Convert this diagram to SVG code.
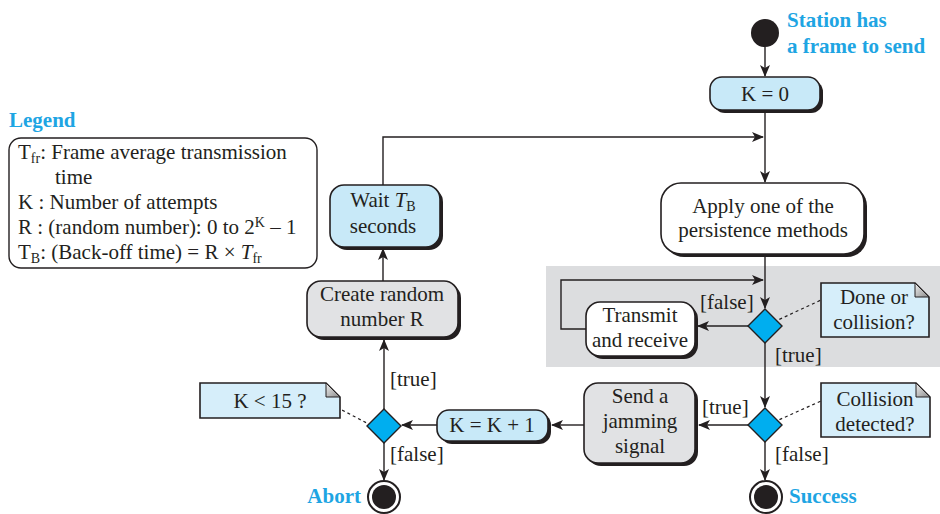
<svg xmlns="http://www.w3.org/2000/svg" width="940" height="514" viewBox="0 0 940 514" font-family="'Liberation Serif', 'Times New Roman', serif">
<defs>
<marker id="ah" viewBox="0 0 12 10" refX="11" refY="5" markerWidth="12" markerHeight="10" markerUnits="userSpaceOnUse" orient="auto">
<path d="M0,0 L12,5 L0,10 L3,5 Z" fill="#231f20"/>
</marker>
<linearGradient id="fold" x1="0" y1="0" x2="1" y2="1">
<stop offset="0" stop-color="#f2f2f2"/><stop offset="1" stop-color="#8a8a8a"/>
</linearGradient>
</defs>
<style>
text{font-family:'Liberation Serif','Times New Roman',serif;font-size:21px;fill:#231f20}
.c{text-anchor:middle}
.lbl{font-weight:bold;fill:#1ea5e3;font-size:21px}
.box{stroke:#231f20;stroke-width:1.6}
.sh{fill:#231f20}
.line{fill:none;stroke:#231f20;stroke-width:1.4}
.dash{fill:none;stroke:#231f20;stroke-width:1.2;stroke-dasharray:3,3}
.dia{fill:#00aeef;stroke:#231f20;stroke-width:1.4}
.note{fill:#d6eefa;stroke:#231f20;stroke-width:1.6}
.blue{fill:#c8e9f8}
.gray{fill:#e1e2e4}
.white{fill:#ffffff}
</style>
<rect x="546" y="266" width="394" height="101" fill="#dcdddf"/>

<g id="connectors">
<line class="line" x1="765" y1="47" x2="765" y2="76" marker-end="url(#ah)"/>
<line class="line" x1="765" y1="110" x2="765" y2="182" marker-end="url(#ah)"/>
<polyline class="line" points="383,185 383,137 763,137" marker-end="url(#ah)"/>
<line class="line" x1="765" y1="254" x2="765" y2="308" marker-end="url(#ah)"/>
<polyline class="line" points="586,329 561,329 561,280 763,280" marker-end="url(#ah)"/>
<line class="line" x1="748" y1="326" x2="698" y2="326" marker-end="url(#ah)"/>
<line class="line" x1="765" y1="343" x2="765" y2="407" marker-end="url(#ah)"/>
<line class="line" x1="748" y1="425" x2="699" y2="425" marker-end="url(#ah)"/>
<line class="line" x1="584" y1="425" x2="552" y2="425" marker-end="url(#ah)"/>
<line class="line" x1="437" y1="425" x2="402" y2="425" marker-end="url(#ah)"/>
<line class="line" x1="384" y1="409" x2="384" y2="340" marker-end="url(#ah)"/>
<line class="line" x1="383" y1="281" x2="383" y2="249" marker-end="url(#ah)"/>
<line class="line" x1="384" y1="443" x2="384" y2="480" marker-end="url(#ah)"/>
<line class="line" x1="765" y1="442" x2="765" y2="480" marker-end="url(#ah)"/>
<line class="dash" x1="763" y1="327" x2="821" y2="300"/>
<line class="dash" x1="763" y1="427" x2="821" y2="401"/>
<line class="dash" x1="382" y1="431" x2="340" y2="409"/>
<text x="700" y="309">[false]</text>
<text x="775" y="362">[true]</text>
<text x="702" y="414">[true]</text>
<text x="775" y="461">[false]</text>
<text x="390" y="386">[true]</text>
<text x="390" y="461">[false]</text>
</g>

<g id="start">
<circle cx="765" cy="33" r="14" fill="#231f20"/>
<text class="lbl" x="787" y="27">Station has</text>
<text class="lbl" x="787" y="53">a frame to send</text>
</g>

<g id="k0">
<rect class="sh" x="713" y="80" width="110" height="33" rx="12"/>
<rect class="box blue" x="710" y="77" width="110" height="33" rx="12"/>
<text class="c" x="765" y="101">K = 0</text>
</g>

<g id="apply">
<rect class="sh" x="664" y="186" width="203" height="71" rx="20"/>
<rect class="box white" x="661" y="183" width="203" height="71" rx="20"/>
<text class="c" x="763" y="213">Apply one of the</text>
<text class="c" x="763" y="237">persistence methods</text>
</g>

<g id="transmit">
<rect class="sh" x="589" y="305" width="109" height="54" rx="14"/>
<rect class="box white" x="586" y="302" width="109" height="54" rx="14"/>
<text class="c" x="640" y="322">Transmit</text>
<text class="c" x="640" y="347">and receive</text>
</g>

<g id="d1">
<polygon class="dia" points="765,309 782,326 765,343 748,326"/>
</g>

<g id="note1">
<path class="note" d="M821,283 H915 L929,297 V337 H821 Z"/>
<path d="M915,283 L929,297 H915 Z" fill="url(#fold)" stroke="#231f20" stroke-width="1"/>
<text class="c" x="874" y="304">Done or</text>
<text class="c" x="874" y="329">collision?</text>
</g>

<g id="d2">
<polygon class="dia" points="765,408 782,425 765,442 748,425"/>
</g>

<g id="note2">
<path class="note" d="M821,383 H916 L930,397 V437 H821 Z"/>
<path d="M916,383 L930,397 H916 Z" fill="url(#fold)" stroke="#231f20" stroke-width="1"/>
<text class="c" x="875" y="406">Collision</text>
<text class="c" x="875" y="431">detected?</text>
</g>

<g id="jam">
<rect class="sh" x="587" y="386" width="111" height="80" rx="14"/>
<rect class="box gray" x="584" y="383" width="111" height="80" rx="14"/>
<text class="c" x="640" y="403">Send a</text>
<text class="c" x="640" y="428">jamming</text>
<text class="c" x="640" y="453">signal</text>
</g>

<g id="kinc">
<rect class="sh" x="440" y="413" width="111" height="31" rx="12"/>
<rect class="box blue" x="437" y="410" width="111" height="31" rx="12"/>
<text class="c" x="492" y="432">K = K + 1</text>
</g>

<g id="d3">
<polygon class="dia" points="384,409 401,426 384,443 367,426"/>
</g>

<g id="note3">
<path class="note" d="M200,383 H326 L340,397 V418 H200 Z"/>
<path d="M326,383 L340,397 H326 Z" fill="url(#fold)" stroke="#231f20" stroke-width="1"/>
<text class="c" x="270" y="408">K &lt; 15 ?</text>
</g>

<g id="create">
<rect class="sh" x="310" y="284" width="151" height="56" rx="14"/>
<rect class="box gray" x="307" y="281" width="151" height="56" rx="14"/>
<text class="c" x="382" y="301">Create random</text>
<text class="c" x="382" y="326">number R</text>
</g>

<g id="wait">
<rect class="sh" x="333" y="188" width="110" height="62" rx="14"/>
<rect class="box blue" x="330" y="185" width="110" height="62" rx="14"/>
<text class="c" x="383" y="207">Wait <tspan font-style="italic">T</tspan><tspan font-size="14" dy="4">B</tspan></text>
<text class="c" x="383" y="233">seconds</text>
</g>

<g id="abort">
<circle cx="384" cy="497" r="16" fill="#ffffff" stroke="#231f20" stroke-width="2"/>
<circle cx="384" cy="497" r="12" fill="#231f20"/>
<text class="lbl" x="361" y="503" text-anchor="end">Abort</text>
</g>

<g id="success">
<circle cx="766" cy="497" r="16" fill="#ffffff" stroke="#231f20" stroke-width="2"/>
<circle cx="766" cy="497" r="12" fill="#231f20"/>
<text class="lbl" x="789" y="503">Success</text>
</g>

<g id="legend">
<text class="lbl" x="9" y="127">Legend</text>
<rect x="9" y="138" width="308" height="130" rx="12" fill="#ffffff" stroke="#231f20" stroke-width="1.4"/>
<text x="18" y="159">T<tspan font-size="14" dy="4">fr</tspan><tspan dy="-4">: Frame average transmission</tspan></text>
<text x="55" y="184">time</text>
<text x="18" y="209">K  : Number of attempts</text>
<text x="18" y="234">R  : (random number): 0 to 2<tspan font-size="14" dy="-7">K</tspan><tspan dy="7"> – 1</tspan></text>
<text x="18" y="259">T<tspan font-size="14" dy="4">B</tspan><tspan dy="-4">: (Back-off time) = R × </tspan><tspan font-style="italic">T</tspan><tspan font-size="14" dy="4">fr</tspan></text>
</g>
</svg>
